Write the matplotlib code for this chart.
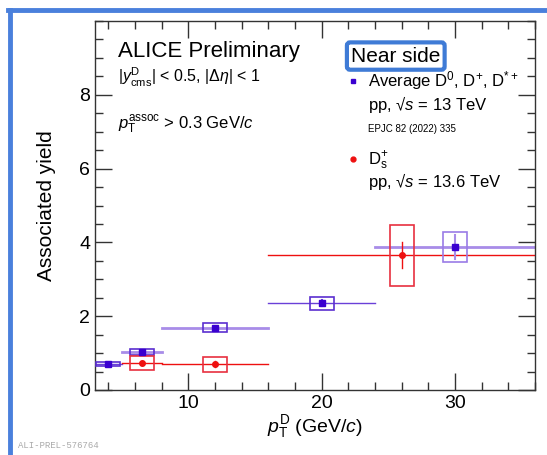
import matplotlib.pyplot as plt
from matplotlib.patches import Rectangle
from matplotlib.lines import Line2D
from matplotlib.ticker import MultipleLocator

plt.rcParams['font.family'] = ['Liberation Sans', 'DejaVu Sans']
plt.rcParams['mathtext.fontset'] = 'custom'
plt.rcParams['mathtext.rm'] = 'Liberation Sans'
plt.rcParams['mathtext.it'] = 'Liberation Sans:italic'
plt.rcParams['mathtext.bf'] = 'Liberation Sans:bold'

# average D0, D+, D*+ (pp 13 TeV)
d_x = [4, 6.5, 12, 20, 30]
d_xlo = [3, 5, 8, 16, 24]
d_xhi = [5, 8, 16, 24, 36]
d_y = [0.70, 1.02, 1.69, 2.35, 3.88]
d_stat = [0.03, 0.04, 0.04, 0.08, 0.32]
d_syst = [0.05, 0.08, 0.12, 0.17, 0.41]

# Ds+ (pp 13.6 TeV)
ds_x = [6.5, 12, 26]
ds_xlo = [5, 8, 16]
ds_xhi = [8, 16, 36]
ds_y = [0.74, 0.70, 3.65]
ds_stat = [0.04, 0.08, 0.35]
ds_syst = [0.19, 0.20, 0.83]

blue = '#3a00d0'
blue_box = ['#5b2fd0', '#5b2fd0', '#5b2fd0', '#5b2fd0', '#9a7be6']
blue_line = ['#6a40d8', '#a88ce8', '#a88ce8', '#6a40d8', '#a88ce8']
blue_lw = [1.0, 2.0, 2.0, 1.0, 2.0]
red = '#ee1010'
red_box = '#e8303f'
box_hw = 0.9

fig = plt.figure(figsize=(5.47, 4.55), dpi=100)
ax = fig.add_axes([95 / 547, 65 / 455, 440 / 547, 369 / 455])

for i in range(len(d_x)):
    ax.plot([d_xlo[i], d_xhi[i]], [d_y[i], d_y[i]], color=blue_line[i], lw=blue_lw[i], zorder=2)
    ax.add_patch(Rectangle((d_x[i] - box_hw, d_y[i] - d_syst[i]), 2 * box_hw, 2 * d_syst[i],
                           fill=False, ec=blue_box[i], lw=1.2, zorder=3))
    ax.plot([d_x[i], d_x[i]], [d_y[i] - d_stat[i], d_y[i] + d_stat[i]], color=blue_line[i], lw=1.5, zorder=4)
ax.plot(d_x, d_y, 's', color=blue, ms=4.5, ls='none', zorder=5)

for i in range(len(ds_x)):
    ax.plot([ds_xlo[i], ds_xhi[i]], [ds_y[i], ds_y[i]], color=red, lw=1.0, zorder=2)
    ax.add_patch(Rectangle((ds_x[i] - box_hw, ds_y[i] - ds_syst[i]), 2 * box_hw, 2 * ds_syst[i],
                           fill=False, ec=red_box, lw=1.2, zorder=3))
    ax.plot([ds_x[i], ds_x[i]], [ds_y[i] - ds_stat[i], ds_y[i] + ds_stat[i]], color=red, lw=1.0, zorder=4)
ax.plot(ds_x, ds_y, 'o', color=red, ms=4, ls='none', zorder=5)

ax.set_xlim(3, 36)
ax.set_ylim(0, 10)
ax.set_xticks([10, 20, 30])
ax.set_yticks([0, 2, 4, 6, 8])
ax.xaxis.set_minor_locator(MultipleLocator(2))
ax.yaxis.set_minor_locator(MultipleLocator(0.5))
ax.tick_params(which='both', direction='in', top=True, right=True, labelsize=14, color='#333333')
ax.tick_params(which='major', length=12, width=1)
ax.tick_params(which='minor', length=6, width=1)
for s in ax.spines.values():
    s.set_color('#333333')
    s.set_linewidth(1)

ax.set_ylabel('Associated yield', fontsize=15)
ax.yaxis.set_label_coords(-0.088, 0.5)
ax.set_xlabel(r'$p_{\rm T}^{\rm D}$ (GeV/$c$)', fontsize=14, labelpad=1)

ax.text(0.052, 0.916, 'ALICE Preliminary', transform=ax.transAxes, fontsize=16, va='center')
ax.text(0.052, 0.848, r'$|y^{\rm D}_{\rm cms}|$ < 0.5, $|\Delta\eta|$ < 1', transform=ax.transAxes,
        fontsize=11.5, va='center')
ax.text(0.052, 0.718, r'$p_{\rm T}^{\rm assoc}$ > 0.3 GeV/$c$', transform=ax.transAxes,
        fontsize=12, va='center')
ax.text(0.582, 0.905, 'Near side', transform=ax.transAxes, fontsize=15, va='center',
        bbox=dict(boxstyle='round,pad=0.2,rounding_size=0.15', fc='white', ec='#3f7bd6', lw=3))

ax.plot([0.586], [0.838], 's', color=blue, ms=3.5, transform=ax.transAxes, clip_on=False)
ax.text(0.620, 0.838, r'Average D$^0$, D$^{+}$, D$^{*+}$', transform=ax.transAxes, fontsize=12, va='center')
ax.text(0.620, 0.774, 'pp, √$s$ = 13 TeV', transform=ax.transAxes, fontsize=12, va='center')
ax.text(0.620, 0.707, 'EPJC 82 (2022) 335', transform=ax.transAxes, fontsize=7, va='center')
ax.plot([0.586], [0.627], 'o', color=red, ms=3.5, transform=ax.transAxes, clip_on=False)
ax.text(0.620, 0.622, r'D$_{\rm s}^{+}$', transform=ax.transAxes, fontsize=12, va='center')
ax.text(0.620, 0.565, 'pp, √$s$ = 13.6 TeV', transform=ax.transAxes, fontsize=12, va='center')

# outer blue frame
fig.add_artist(Line2D([10 / 547, 10 / 547], [0, 1 - 10 / 455], color='#4a80dc', lw=3.5))
fig.add_artist(Line2D([8 / 547, 1], [1 - 10 / 455, 1 - 10 / 455], color='#4a80dc', lw=3.5))
fig.text(18 / 547, 5 / 455, 'ALI-PREL-576764', fontsize=6.5, color='#aaaaaa',
         family='Liberation Mono', va='bottom')

fig.savefig('out.png', dpi=100)
